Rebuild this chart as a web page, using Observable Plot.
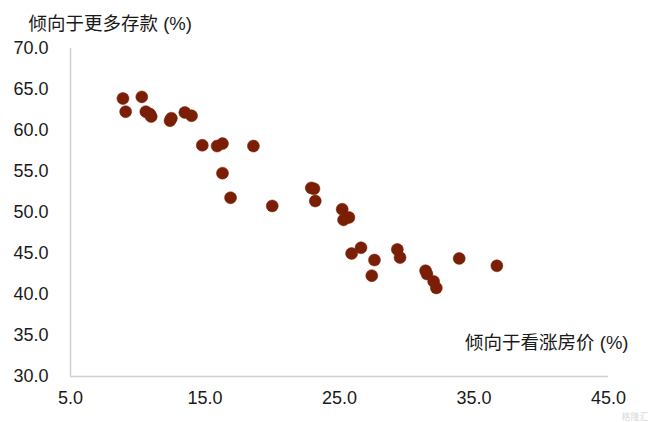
<!DOCTYPE html>
<html>
<head>
<meta charset="utf-8">
<script src="https://cdn.jsdelivr.net/npm/d3@7"></script>
<script src="https://cdn.jsdelivr.net/npm/@observablehq/plot@0.6"></script>
<style>
  html, body { margin: 0; padding: 0; background: #fff; }
  #chart svg { display: block; }
</style>
</head>
<body>
<div id="chart"></div>
<script>
const housePriceUp = [8.9, 10.3, 9.1, 10.6, 10.9, 11.0, 12.4, 12.5, 13.5, 14.0,
  14.8, 15.9, 16.3, 16.3, 18.6, 16.9, 20.0, 22.9, 23.1, 23.2,
  25.2, 25.7, 25.3, 25.9, 26.6, 27.6, 27.4, 29.3, 29.5, 31.4,
  31.5, 32.0, 32.2, 33.9, 36.7];
const moreSaving = [63.9, 64.1, 62.3, 62.3, 62.0, 61.7, 61.2, 61.5, 62.2, 61.8,
  58.2, 58.1, 58.4, 54.8, 58.1, 51.8, 50.8, 53.0, 52.9, 51.4,
  50.4, 49.4, 49.1, 45.0, 45.7, 44.2, 42.3, 45.5, 44.5, 42.9,
  42.5, 41.6, 40.8, 44.4, 43.5];
const xTicks = [5, 15, 25, 35, 45];
const yTicks = [30, 35, 40, 45, 50, 55, 60, 65, 70];
const yTitle = "倾向于更多存款 (%)";
const xTitle = "倾向于看涨房价 (%)";
const watermark = "格隆汇";

const data = housePriceUp.map((x, i) => ({x, y: moreSaving[i]}));
const font = "'Liberation Sans', Arial, 'Noto Sans CJK SC', sans-serif";

const chart = Plot.plot({
  width: 650,
  height: 422,
  marginTop: 48,
  marginBottom: 46,
  marginLeft: 70,
  marginRight: 42,
  style: {fontFamily: font, fontSize: "18px", color: "#1a1a1a", background: "#fff"},
  x: {domain: [5, 45]},
  y: {domain: [30, 70]},
  marks: [
    Plot.ruleX([5], {stroke: "#cfcfcf", strokeWidth: 1.5}),
    Plot.ruleY([30], {stroke: "#cfcfcf", strokeWidth: 1.5}),
    Plot.axisX({ticks: xTicks, tickFormat: d3.format(".1f"), tickSize: 0, tickPadding: 15, label: null, fontSize: 18}),
    Plot.axisY({ticks: yTicks, tickFormat: d3.format(".1f"), tickSize: 0, tickPadding: 22, label: null, fontSize: 18}),
    Plot.dot(data, {x: "x", y: "y", r: 6, fill: "#7a1e06", stroke: "#7a1e06", strokeWidth: 0.5}),
    Plot.text([yTitle], {frameAnchor: "top-left", text: d => d, dx: -42, dy: -32, textAnchor: "start", fontSize: 18.5, fill: "#1a1a1a"}),
    Plot.text([xTitle], {frameAnchor: "bottom-right", text: d => d, dx: 20, dy: -28, textAnchor: "end", fontSize: 18.5, fill: "#1a1a1a"}),
    Plot.text([watermark], {frameAnchor: "bottom-right", text: d => d, dx: 40, dy: 43, textAnchor: "end", lineAnchor: "bottom", fontSize: 9, fill: "#d8d8d8"})
  ]
});
document.getElementById("chart").appendChild(chart);
</script>
</body>
</html>
